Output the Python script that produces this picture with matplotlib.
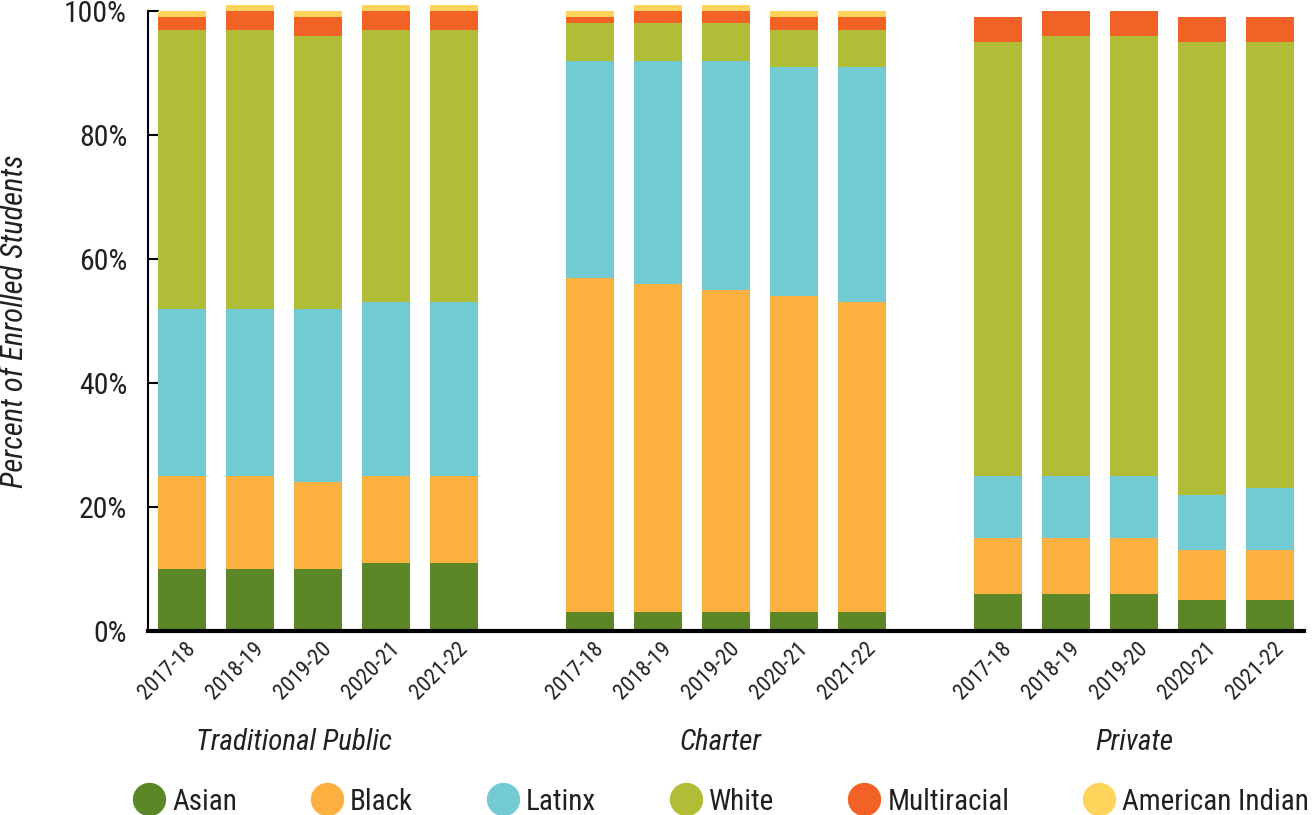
import numpy as np
import matplotlib
matplotlib.use("Agg")
import matplotlib.pyplot as plt
import matplotlib.transforms as mtransforms
from matplotlib import font_manager as fm

# pick a condensed sans if one is there, otherwise plain DejaVu
have = set(f.name for f in fm.fontManager.ttflist)
font = 'DejaVu Sans'
for cand in ['Roboto Condensed', 'Archivo Narrow', 'PT Sans Narrow', 'Fira Sans Condensed',
             'IBM Plex Sans Condensed', 'Barlow Condensed', 'Liberation Sans Narrow']:
    if cand in have:
        font = cand
        break
plt.rcParams['font.family'] = [font, 'DejaVu Sans']

# data (percent of enrolled students)
sectors = ['Traditional Public', 'Charter', 'Private']
years = ['2017-18', '2018-19', '2019-20', '2020-21', '2021-22']
groups = ['Asian', 'Black', 'Latinx', 'White', 'Multiracial', 'American Indian']

asian = [10, 10, 10, 11, 11,   3, 3, 3, 3, 3,   6, 6, 6, 5, 5]
black = [15, 15, 14, 14, 14,   54, 53, 52, 51, 50,   9, 9, 9, 8, 8]
latinx = [27, 27, 28, 28, 28,   35, 36, 37, 37, 38,   10, 10, 10, 9, 10]
white = [45, 45, 44, 44, 44,   6, 6, 6, 6, 6,   70, 71, 71, 73, 72]
multiracial = [2, 3, 3, 3, 3,   1, 2, 2, 2, 2,   4, 4, 4, 4, 4]
american_indian = [1, 1, 1, 1, 1,   1, 1, 1, 1, 1,   0, 0, 0, 0, 0]

colors = ['#5c8727', '#fcb040', '#72cbd2', '#b1bd37', '#f26125', '#ffd45b']
series = [asian, black, latinx, white, multiracial, american_indian]
ink = '#231f20'

# bar positions: 5 bars per sector, one empty slot between sectors
x = np.concatenate([np.arange(5) + 6 * i for i in range(3)])

W, H = 1312, 815
fig = plt.figure(figsize=(W / 100, H / 100), dpi=100)
ax = fig.add_axes([148 / W, (H - 631) / H, (1304 - 148) / W, (631 - 11) / H])

bottom = np.zeros(len(x))
for vals, c, name in zip(series, colors, groups):
    vals = np.array(vals, dtype=float)
    ax.bar(x, vals, width=0.72, bottom=bottom, color=c, label=name, clip_on=False, zorder=2)
    bottom += vals

ax.set_xlim(-0.5, 16.5)
ax.set_ylim(0, 100)
ax.set_yticks([0, 20, 40, 60, 80, 100])
ax.set_yticklabels(['0%', '20%', '40%', '60%', '80%', '100%'], fontsize=21.5, color=ink)
ax.tick_params(axis='y', direction='in', length=8, width=1.5, pad=15)

ax.set_xticks(x)
ax.set_xticklabels(years * 3, rotation=45, ha='right', va='top',
                   rotation_mode='anchor', fontsize=16, color=ink)
ax.tick_params(axis='x', length=0, pad=5)
offset = mtransforms.ScaledTranslation(3 / 100, 0, fig.dpi_scale_trans)
for lab in ax.get_xticklabels():
    lab.set_transform(lab.get_transform() + offset)

for s in ['top', 'right']:
    ax.spines[s].set_visible(False)
ax.spines['left'].set_linewidth(1.5)
ax.spines['bottom'].set_linewidth(3)
ax.spines['bottom'].set_zorder(3)

ax.set_ylabel('Percent of Enrolled Students', fontsize=22, style='italic', color=ink)
ax.yaxis.set_label_coords((29 - 148) / 1156, 0.5)

# sector names under each group
for pos, name in zip([1.64, 7.92, 14.0], sectors):
    ax.text(pos, -17.9, name, transform=ax.transData, ha='center', va='center',
            fontsize=21, style='italic', color=ink)

# legend row: circle, label, then a fixed gap to the next circle
renderer = fig.canvas.get_renderer()
ly = 1 - 799 / H
px = 149
for c, name in zip(colors, groups):
    fig.lines.append(plt.Line2D([px / W], [ly], marker='o', markersize=23, linestyle='none',
                                markerfacecolor=c, markeredgecolor=c,
                                transform=fig.transFigure, figure=fig))
    t = fig.text((px + 23) / W, ly, name, fontsize=21, color=ink, ha='left', va='center_baseline')
    tw = t.get_window_extent(renderer).width
    px = px + 23 + tw + 74 + 16

fig.savefig('out.png', dpi=100)
